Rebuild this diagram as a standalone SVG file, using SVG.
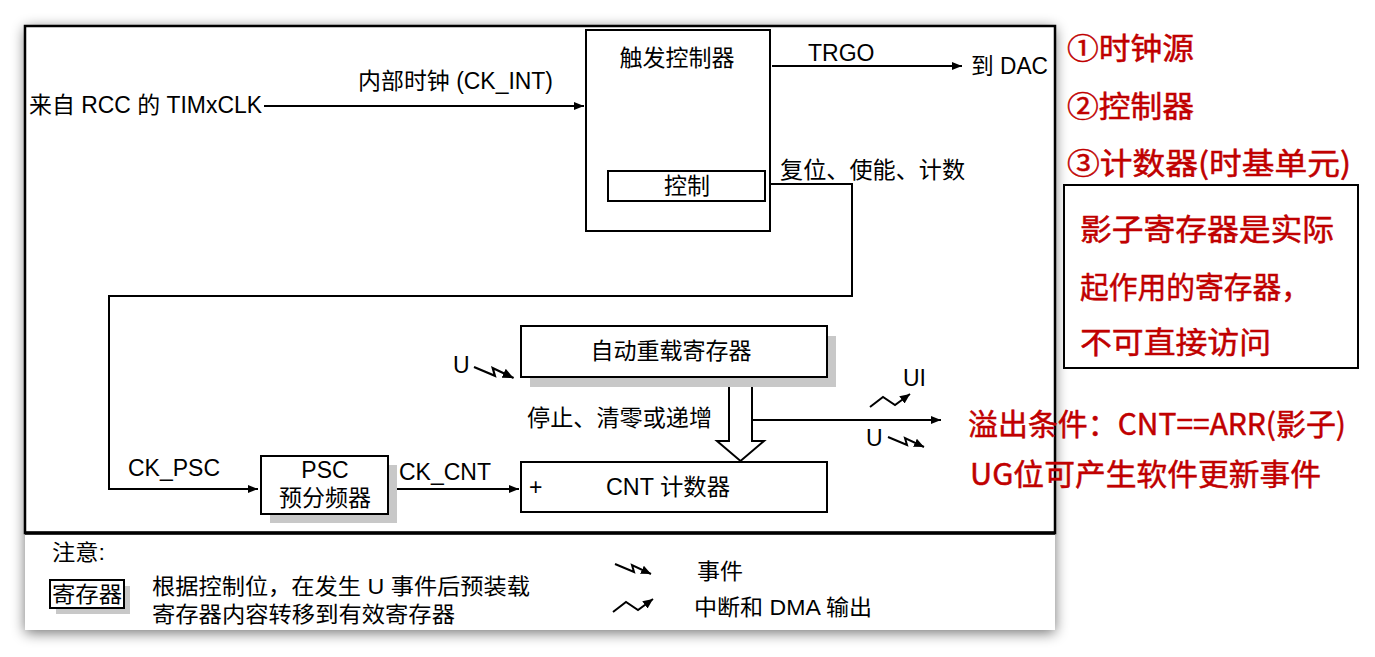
<svg xmlns="http://www.w3.org/2000/svg" width="1375" height="657" viewBox="0 0 1375 657">
  <style>
    .t { font-family: "Liberation Sans", "Noto Sans CJK SC", sans-serif; font-size: 23px; fill: #000; }
    .leg { font-family: "Liberation Sans", "Noto Sans CJK SC", sans-serif; font-size: 22px; fill: #000; }
    .red { font-family: "Noto Sans CJK SC", "Liberation Sans", sans-serif; font-size: 30px; fill: #c00000; stroke: #c00000; stroke-width: 0.5; }
    .box { fill: #fff; stroke: #000; stroke-width: 2; }
    .shadow { fill: #c8c8c8; }
    .wire { fill: none; stroke: #000; stroke-width: 2; }
    .bolt { fill: none; stroke: #000; stroke-width: 2; stroke-linejoin: miter; }
  </style>
  <defs>
    <filter id="pageShadow" x="-5%" y="-5%" width="110%" height="112%">
      <feGaussianBlur in="SourceAlpha" stdDeviation="7"/>
      <feOffset dx="0" dy="3" result="b"/>
      <feComponentTransfer><feFuncA type="linear" slope="0.55"/></feComponentTransfer>
      <feMerge><feMergeNode/><feMergeNode in="SourceGraphic"/></feMerge>
    </filter>
    <marker id="ah" viewBox="0 0 10 10" refX="10" refY="5" markerWidth="11" markerHeight="10" markerUnits="userSpaceOnUse" orient="auto">
      <path d="M0,1 L10,5 L0,9 z" fill="#000"/>
    </marker>
    <marker id="ahs" viewBox="0 0 10 10" refX="10" refY="5" markerWidth="10" markerHeight="10" markerUnits="userSpaceOnUse" orient="auto">
      <path d="M0,0.5 L10,5 L0,9.5 z" fill="#000"/>
    </marker>
    <!-- event symbol: zig-zag pointing down-right -->
    <path id="evt" class="bolt" d="M0,0 L19,8 L17,1 L36,10" marker-end="url(#ahs)"/>
    <!-- interrupt / DMA symbol: zig-zag pointing up-right -->
    <path id="irq" class="bolt" d="M0,13 L13,3 L25,11 L40,0" marker-end="url(#ahs)"/>
  </defs>

  <rect width="1375" height="657" fill="#fff"/>

  <!-- page with soft shadow -->
  <rect x="25" y="25" width="1030" height="605" fill="#fff" filter="url(#pageShadow)"/>
  <!-- upper diagram frame -->
  <rect x="25" y="26" width="1030" height="507" fill="none" stroke="#000" stroke-width="2.5"/>
  <line x1="25" y1="533" x2="1055" y2="533" stroke="#000" stroke-width="3.5"/>

  <!-- connectors -->
  <g id="connectors">
    <line class="wire" x1="264" y1="106" x2="584" y2="106" marker-end="url(#ah)"/>
    <line class="wire" x1="772" y1="66" x2="962" y2="66" marker-end="url(#ah)"/>
    <polyline class="wire" points="765,184 852,184 852,296 109,296 109,489 258,489" marker-end="url(#ah)"/>
    <line class="wire" x1="388" y1="489" x2="519" y2="489" marker-end="url(#ah)"/>
    <path d="M729,378 L729,441 L717,441 L740.5,461 L764,441 L752,441 L752,378" fill="#fff" stroke="#000" stroke-width="2"/>
    <line class="wire" x1="752" y1="420" x2="941" y2="420" marker-end="url(#ah)"/>
    <use href="#evt" transform="translate(474,367) scale(1.1)"/>
    <use href="#irq" transform="translate(870,394)"/>
    <use href="#evt" transform="translate(888,437)"/>
  </g>

  <!-- input / output labels -->
  <g id="labels">
    <text class="t" x="29" y="113" textLength="233" lengthAdjust="spacingAndGlyphs">来自 RCC 的 TIMxCLK</text>
    <text class="t" x="358" y="89" textLength="195" lengthAdjust="spacingAndGlyphs">内部时钟 (CK_INT)</text>
    <text class="t" x="808" y="61">TRGO</text>
    <text class="t" x="971" y="74" textLength="77" lengthAdjust="spacingAndGlyphs">到 DAC</text>
    <text class="t" x="780" y="178" textLength="185" lengthAdjust="spacingAndGlyphs">复位、使能、计数</text>
    <text class="t" x="128" y="476">CK_PSC</text>
    <text class="t" x="399" y="480">CK_CNT</text>
    <text class="t" x="453" y="373">U</text>
    <text class="t" x="527" y="426" textLength="185" lengthAdjust="spacingAndGlyphs">停止、清零或递增</text>
    <text class="t" x="903" y="386">UI</text>
    <text class="t" x="866" y="446">U</text>
  </g>

  <!-- trigger controller -->
  <g id="trigger-controller">
    <rect class="box" x="586" y="30" width="184" height="201"/>
    <text class="t" x="677" y="66" text-anchor="middle">触发控制器</text>
    <rect class="box" x="608" y="171" width="157" height="30"/>
    <text class="t" x="687" y="194" text-anchor="middle">控制</text>
  </g>

  <!-- auto-reload register -->
  <g id="auto-reload">
    <rect class="shadow" x="530" y="336" width="306" height="51"/>
    <rect class="box" x="521" y="326" width="306" height="51"/>
    <text class="t" x="671" y="359" text-anchor="middle" textLength="161" lengthAdjust="spacingAndGlyphs">自动重载寄存器</text>
  </g>

  <!-- prescaler -->
  <g id="psc">
    <rect class="shadow" x="270" y="465" width="127" height="58"/>
    <rect class="box" x="261" y="456" width="127" height="58"/>
    <text class="t" x="325" y="478" text-anchor="middle">PSC</text>
    <text class="t" x="325" y="506" text-anchor="middle" textLength="92" lengthAdjust="spacingAndGlyphs">预分频器</text>
  </g>

  <!-- counter -->
  <g id="cnt">
    <rect class="box" x="521" y="462" width="306" height="50"/>
    <text class="t" x="529" y="495">+</text>
    <text class="t" x="668" y="495" text-anchor="middle" textLength="124" lengthAdjust="spacingAndGlyphs">CNT 计数器</text>
  </g>

  <!-- legend -->
  <g id="legend">
    <text class="leg" x="52" y="560" textLength="53" lengthAdjust="spacingAndGlyphs">注意:</text>
    <rect class="shadow" x="56" y="586" width="74" height="28"/>
    <rect class="box" x="50" y="580" width="74" height="28"/>
    <text class="leg" x="87" y="602" text-anchor="middle" textLength="70" lengthAdjust="spacingAndGlyphs">寄存器</text>
    <text class="leg" x="152" y="594" textLength="378" lengthAdjust="spacingAndGlyphs">根据控制位，在发生 U 事件后预装载</text>
    <text class="leg" x="152" y="622" textLength="303" lengthAdjust="spacingAndGlyphs">寄存器内容转移到有效寄存器</text>
    <use href="#evt" transform="translate(615,564)"/>
    <text class="leg" x="697" y="579" textLength="46" lengthAdjust="spacingAndGlyphs">事件</text>
    <use href="#irq" transform="translate(613,599)"/>
    <text class="leg" x="694" y="615" textLength="178" lengthAdjust="spacingAndGlyphs">中断和 DMA 输出</text>
  </g>

  <!-- annotations -->
  <g id="notes">
    <text class="red" x="1067" y="59" textLength="127" lengthAdjust="spacingAndGlyphs">①时钟源</text>
    <text class="red" x="1067" y="117" textLength="127" lengthAdjust="spacingAndGlyphs">②控制器</text>
    <text class="red" x="1067" y="174" textLength="284" lengthAdjust="spacingAndGlyphs">③计数器(时基单元)</text>
    <rect x="1064" y="185" width="294" height="183" fill="#fff" stroke="#000" stroke-width="2"/>
    <text class="red" x="1080" y="240" textLength="254" lengthAdjust="spacingAndGlyphs">影子寄存器是实际</text>
    <text class="red" x="1080" y="298" textLength="230" lengthAdjust="spacingAndGlyphs">起作用的寄存器，</text>
    <text class="red" x="1080" y="353" textLength="191" lengthAdjust="spacingAndGlyphs">不可直接访问</text>
    <text class="red" x="968" y="435" textLength="378" lengthAdjust="spacingAndGlyphs">溢出条件：CNT==ARR(影子)</text>
    <text class="red" x="970" y="485" textLength="351" lengthAdjust="spacingAndGlyphs">UG位可产生软件更新事件</text>
  </g>
</svg>
